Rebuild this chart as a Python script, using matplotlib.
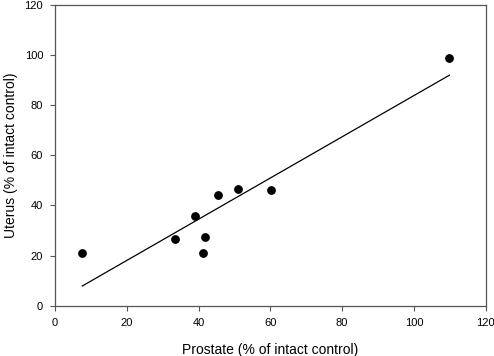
import numpy as np
import matplotlib
matplotlib.use("Agg")
import matplotlib.pyplot as plt

plt.rcParams['font.family'] = ['Liberation Sans', 'DejaVu Sans']

# prostate vs uterus weight, % of intact control
prostate = [7.6, 33.3, 39.1, 41.2, 41.7, 45.3, 51.1, 60.2, 109.9]
uterus = [21.1, 26.7, 35.8, 20.9, 27.3, 44.2, 46.6, 46.0, 99.0]
ticks = [0, 20, 40, 60, 80, 100, 120]

fig = plt.figure(figsize=(4.94, 3.56), dpi=100)
ax = fig.add_axes([0.1113, 0.1413, 0.8719, 0.8447])

# linear regression line over the data range
slope, icpt = np.polyfit(prostate, uterus, 1)
xl = np.array([min(prostate), max(prostate)])
ax.plot(xl, slope * xl + icpt, color='black', lw=0.9)
ax.plot(prostate, uterus, 'o', color='black', ms=5.3, zorder=3)

ax.set_xlim(0, 120)
ax.set_ylim(0, 120)
ax.set_xticks(ticks)
ax.set_yticks(ticks)
ax.tick_params(direction='out', length=3.5, width=0.8, color='#555555',
               labelsize=8, pad=5)
for s in ax.spines.values():
    s.set_color('#555555')
    s.set_linewidth(0.9)

ax.set_xlabel('Prostate (% of intact control)', fontsize=10, labelpad=11)
ax.set_ylabel('Uterus (% of intact control)', fontsize=10, labelpad=5)

fig.savefig('out.png', dpi=100)
